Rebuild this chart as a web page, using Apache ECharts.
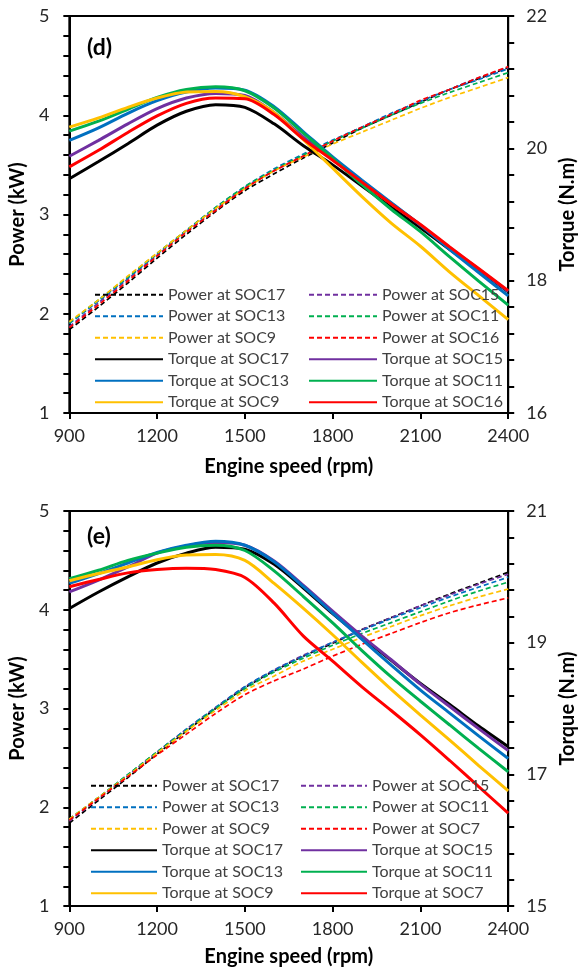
<!DOCTYPE html>
<html>
<head>
<meta charset="utf-8">
<script src="https://cdn.jsdelivr.net/npm/echarts@6/dist/echarts.min.js"></script>
<style>
html,body{margin:0;padding:0;background:#fff;}
#c{width:586px;height:971px;}
</style>
</head>
<body>
<div id="c"></div>
<script>
// ---------- data ----------
const rpm = [900, 1000, 1100, 1200, 1300, 1400, 1500, 1600, 1700, 1800, 1900, 2000, 2100, 2200, 2300, 2400];
const xTicks = [900, 1200, 1500, 1800, 2100, 2400];

// Panel (d) - power (kW)
const dPowSOC17 = [1.84, 2.07, 2.31, 2.56, 2.80, 3.03, 3.24, 3.41, 3.57, 3.72, 3.87, 4.00, 4.13, 4.26, 4.37, 4.48];
const dPowSOC15 = [1.87, 2.11, 2.35, 2.59, 2.83, 3.05, 3.27, 3.44, 3.59, 3.74, 3.88, 4.01, 4.14, 4.26, 4.38, 4.48];
const dPowSOC13 = [1.90, 2.13, 2.36, 2.60, 2.84, 3.07, 3.28, 3.46, 3.61, 3.75, 3.88, 4.02, 4.14, 4.26, 4.36, 4.47];
const dPowSOC11 = [1.91, 2.14, 2.37, 2.61, 2.84, 3.07, 3.28, 3.45, 3.60, 3.74, 3.87, 4.00, 4.12, 4.23, 4.33, 4.43];
const dPowSOC9  = [1.92, 2.14, 2.38, 2.61, 2.84, 3.06, 3.26, 3.44, 3.58, 3.71, 3.83, 3.95, 4.07, 4.18, 4.28, 4.38];
const dPowSOC16 = [1.86, 2.09, 2.33, 2.58, 2.82, 3.04, 3.26, 3.44, 3.59, 3.74, 3.88, 4.01, 4.15, 4.26, 4.38, 4.49];
// Panel (d) - torque (N.m)
const dTorSOC17 = [19.54, 19.80, 20.07, 20.35, 20.56, 20.66, 20.62, 20.37, 20.04, 19.75, 19.43, 19.11, 18.80, 18.47, 18.16, 17.83];
const dTorSOC15 = [19.88, 20.12, 20.37, 20.60, 20.76, 20.83, 20.80, 20.54, 20.17, 19.84, 19.50, 19.17, 18.84, 18.50, 18.17, 17.84];
const dTorSOC13 = [20.12, 20.31, 20.53, 20.72, 20.85, 20.91, 20.88, 20.63, 20.25, 19.87, 19.52, 19.18, 18.84, 18.47, 18.12, 17.77];
const dTorSOC11 = [20.26, 20.41, 20.59, 20.77, 20.89, 20.93, 20.87, 20.61, 20.23, 19.85, 19.45, 19.08, 18.74, 18.36, 17.99, 17.63];
const dTorSOC9  = [20.32, 20.46, 20.62, 20.76, 20.85, 20.86, 20.78, 20.54, 20.13, 19.70, 19.27, 18.87, 18.52, 18.13, 17.77, 17.41];
const dTorSOC16 = [19.72, 19.97, 20.24, 20.49, 20.68, 20.76, 20.75, 20.51, 20.14, 19.82, 19.49, 19.16, 18.85, 18.51, 18.18, 17.85];

// Panel (e) - power (kW)
const ePowSOC17 = [1.84, 2.07, 2.30, 2.54, 2.77, 3.00, 3.21, 3.38, 3.53, 3.66, 3.80, 3.92, 4.04, 4.16, 4.27, 4.38];
const ePowSOC15 = [1.86, 2.09, 2.32, 2.56, 2.79, 3.01, 3.22, 3.39, 3.54, 3.67, 3.80, 3.92, 4.04, 4.15, 4.26, 4.36];
const ePowSOC13 = [1.88, 2.10, 2.33, 2.56, 2.79, 3.01, 3.22, 3.39, 3.53, 3.67, 3.79, 3.91, 4.02, 4.13, 4.23, 4.33];
const ePowSOC11 = [1.88, 2.10, 2.33, 2.56, 2.78, 3.00, 3.20, 3.37, 3.51, 3.64, 3.76, 3.87, 3.98, 4.09, 4.19, 4.28];
const ePowSOC9  = [1.88, 2.10, 2.32, 2.55, 2.77, 2.98, 3.18, 3.33, 3.48, 3.60, 3.72, 3.83, 3.94, 4.04, 4.13, 4.21];
const ePowSOC7  = [1.87, 2.09, 2.31, 2.53, 2.74, 2.95, 3.14, 3.28, 3.40, 3.53, 3.65, 3.76, 3.87, 3.97, 4.05, 4.12];
// Panel (e) - torque (N.m)
const eTorSOC17 = [19.52, 19.77, 20.00, 20.21, 20.36, 20.45, 20.42, 20.19, 19.83, 19.44, 19.08, 18.73, 18.38, 18.06, 17.73, 17.42];
const eTorSOC15 = [19.77, 19.95, 20.15, 20.36, 20.47, 20.52, 20.48, 20.24, 19.87, 19.48, 19.10, 18.74, 18.37, 18.03, 17.69, 17.36];
const eTorSOC13 = [19.90, 20.05, 20.21, 20.37, 20.48, 20.54, 20.48, 20.23, 19.85, 19.45, 19.05, 18.66, 18.28, 17.93, 17.58, 17.24];
const eTorSOC11 = [19.97, 20.10, 20.25, 20.36, 20.45, 20.48, 20.40, 20.09, 19.70, 19.30, 18.88, 18.48, 18.11, 17.75, 17.39, 17.04];
const eTorSOC9  = [19.94, 20.05, 20.15, 20.26, 20.33, 20.34, 20.25, 19.90, 19.52, 19.12, 18.70, 18.29, 17.90, 17.52, 17.13, 16.75];
const eTorSOC7  = [19.85, 19.96, 20.06, 20.11, 20.13, 20.11, 19.99, 19.60, 19.10, 18.72, 18.33, 17.97, 17.60, 17.21, 16.81, 16.41];

// ---------- styling ----------
const FONT = 'Lato';
const C = {
  SOC17: '#000000', SOC15: '#7030A0', SOC13: '#0070C0',
  SOC11: '#00B050', SOC9: '#FFC000', SOC16: '#FF0000', SOC7: '#FF0000'
};

function pairs(ys) { return rpm.map((x, i) => [x, ys[i]]); }

function mk(name, ys, color, dashed, xi, yi) {
  return {
    name: name, type: 'line', xAxisIndex: xi, yAxisIndex: yi,
    data: pairs(ys), smooth: 0.3, symbol: 'none', showSymbol: false,
    lineStyle: dashed ? { color: color, width: 1.7, type: [5, 3] } : { color: color, width: 3 },
    itemStyle: { color: color },
    emphasis: { disabled: true }, animation: false
  };
}

const series = [
  mk('Power at SOC17', dPowSOC17, C.SOC17, true, 0, 0),
  mk('Power at SOC15', dPowSOC15, C.SOC15, true, 0, 0),
  mk('Power at SOC13', dPowSOC13, C.SOC13, true, 0, 0),
  mk('Power at SOC11', dPowSOC11, C.SOC11, true, 0, 0),
  mk('Power at SOC9',  dPowSOC9,  C.SOC9,  true, 0, 0),
  mk('Power at SOC16', dPowSOC16, C.SOC16, true, 0, 0),
  mk('Torque at SOC17', dTorSOC17, C.SOC17, false, 0, 1),
  mk('Torque at SOC15', dTorSOC15, C.SOC15, false, 0, 1),
  mk('Torque at SOC13', dTorSOC13, C.SOC13, false, 0, 1),
  mk('Torque at SOC11', dTorSOC11, C.SOC11, false, 0, 1),
  mk('Torque at SOC9',  dTorSOC9,  C.SOC9,  false, 0, 1),
  mk('Torque at SOC16', dTorSOC16, C.SOC16, false, 0, 1),

  mk('Power at SOC17', ePowSOC17, C.SOC17, true, 1, 2),
  mk('Power at SOC15', ePowSOC15, C.SOC15, true, 1, 2),
  mk('Power at SOC13', ePowSOC13, C.SOC13, true, 1, 2),
  mk('Power at SOC11', ePowSOC11, C.SOC11, true, 1, 2),
  mk('Power at SOC9',  ePowSOC9,  C.SOC9,  true, 1, 2),
  mk('Power at SOC7',  ePowSOC7,  C.SOC7,  true, 1, 2),
  mk('Torque at SOC17', eTorSOC17, C.SOC17, false, 1, 3),
  mk('Torque at SOC15', eTorSOC15, C.SOC15, false, 1, 3),
  mk('Torque at SOC13', eTorSOC13, C.SOC13, false, 1, 3),
  mk('Torque at SOC11', eTorSOC11, C.SOC11, false, 1, 3),
  mk('Torque at SOC9',  eTorSOC9,  C.SOC9,  false, 1, 3),
  mk('Torque at SOC7',  eTorSOC7,  C.SOC7,  false, 1, 3)
];

const labelStyle = { fontFamily: FONT, fontSize: 18, color: '#262626' };
const nameStyle = { fontFamily: FONT, fontSize: 20, fontWeight: 'bold', color: '#000' };
const lineBlack = { show: true, lineStyle: { color: '#000', width: 2 } };
const tickOut = { show: true, inside: false, length: 6, lineStyle: { color: '#000', width: 2 } };
const minorOut = { show: true, splitNumber: 5, length: 6, lineStyle: { color: '#000', width: 2 } };

function xAx(gi, gap) {
  return {
    type: 'value', gridIndex: gi, min: xTicks[0], max: xTicks[xTicks.length - 1], interval: 300,
    axisLine: lineBlack, axisTick: tickOut, splitLine: { show: false },
    axisLabel: Object.assign({ margin: 14, formatter: v => String(v) }, labelStyle),
    name: 'Engine speed (rpm)', nameLocation: 'middle', nameGap: gap, nameTextStyle: nameStyle
  };
}
function yLeft(gi) {
  return {
    type: 'value', gridIndex: gi, position: 'left', min: 1, max: 5, interval: 1,
    axisLine: lineBlack, axisTick: tickOut, minorTick: minorOut, splitLine: { show: false },
    axisLabel: Object.assign({ margin: 20 }, labelStyle),
    name: 'Power (kW)', nameLocation: 'middle', nameGap: 32, nameRotate: 90, nameTextStyle: nameStyle
  };
}
function yRight(gi, mn, mx) {
  return {
    type: 'value', gridIndex: gi, position: 'right', min: mn, max: mx, interval: 2,
    axisLine: lineBlack, axisTick: tickOut, minorTick: minorOut, splitLine: { show: false },
    axisLabel: Object.assign({ margin: 18 }, labelStyle),
    name: 'Torque (N.m)', nameLocation: 'middle', nameGap: 43, nameRotate: 90, nameTextStyle: nameStyle
  };
}

function leg(names, left, top, w) {
  return {
    data: names, orient: 'vertical', left: left, top: top, padding: 0,
    itemWidth: w, itemHeight: 10, itemGap: 0, selectedMode: false,
    itemStyle: { opacity: 0 },
    textStyle: { fontFamily: FONT, fontSize: 16, color: '#404040', lineHeight: 21.5 }
  };
}

const option = {
  animation: false,
  backgroundColor: '#fff',
  title: [
    { text: '(d)', left: 87, top: 36, padding: 0, textStyle: { fontFamily: FONT, fontSize: 23, fontWeight: 'bold', color: '#000' } },
    { text: '(e)', left: 87, top: 525, padding: 0, textStyle: { fontFamily: FONT, fontSize: 23, fontWeight: 'bold', color: '#000' } }
  ],
  grid: [
    { left: 59, right: 65, top: 16, height: 397, show: true, borderColor: '#000', borderWidth: 2, backgroundColor: 'transparent' },
    { left: 61, right: 62, top: 511, height: 395, show: true, borderColor: '#000', borderWidth: 2, backgroundColor: 'transparent' }
  ],
  xAxis: [xAx(0, 44), xAx(1, 41)],
  yAxis: [yLeft(0), yRight(0, 16, 22), yLeft(1), yRight(1, 15, 21)],
  legend: [
    leg(['Power at SOC17', 'Power at SOC13', 'Power at SOC9', 'Torque at SOC17', 'Torque at SOC13', 'Torque at SOC9'], 94, 284, 68),
    leg(['Power at SOC15', 'Power at SOC11', 'Power at SOC16', 'Torque at SOC15', 'Torque at SOC11', 'Torque at SOC16'], 308, 284, 68),
    leg(['Power at SOC17', 'Power at SOC13', 'Power at SOC9', 'Torque at SOC17', 'Torque at SOC13', 'Torque at SOC9'], 90, 775, 66),
    leg(['Power at SOC15', 'Power at SOC11', 'Power at SOC7', 'Torque at SOC15', 'Torque at SOC11', 'Torque at SOC7'], 300, 775, 66)
  ],
  series: series
};

const chart = echarts.init(document.getElementById('c'), null, { renderer: 'canvas' });
chart.setOption(option);
</script>
</body>
</html>
